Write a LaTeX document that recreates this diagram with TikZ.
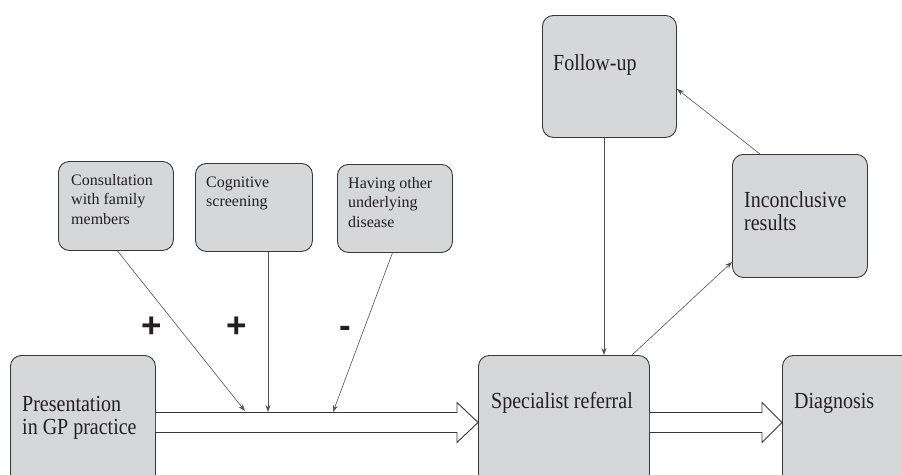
\documentclass[tikz,border=0pt]{standalone}
\usepackage{fontspec}
\setmainfont{Liberation Serif}
\newfontfamily\signfont{Liberation Sans}
\usetikzlibrary{arrows.meta,calc}
\definecolor{boxfill}{RGB}{214,215,217}
\definecolor{boxline}{RGB}{55,55,55}
\definecolor{txt}{RGB}{35,31,32}
\definecolor{conn}{RGB}{80,80,80}
\tikzset{
  box/.style={draw=boxline, fill=boxfill, line width=0.9pt, rounded corners=11pt, inner sep=0pt, anchor=north west},
  bigtext/.style={anchor=base west, align=left, inner sep=0pt, text=txt, yscale=1.15, transform shape, font=\fontsize{20}{20}\selectfont},
  smalltext/.style={anchor=base west, align=left, inner sep=0pt, text=txt, font=\fontsize{16}{19.5}\selectfont},
  conn/.style={draw=conn, line width=0.6pt, -{Stealth[length=7pt,width=5pt]}},
  bigarrow/.style={draw=boxline, fill=white, line width=0.9pt, line join=miter},
  sign/.style={inner sep=0pt, text=txt, font=\signfont\bfseries\fontsize{35}{35}\selectfont}
}
\begin{document}
\begin{tikzpicture}[x=1pt,y=-1pt]
\useasboundingbox (0,0) rectangle (902,474);
\clip (0,0) rectangle (902,474);
% main boxes
\node[box, minimum width=145pt, minimum height=134pt] (pres) at (10,355) {};
\node[box, minimum width=171pt, minimum height=134pt] (spec) at (478,355) {};
\node[box, minimum width=140pt, minimum height=134pt] (diag) at (782,355) {};
\node[box, minimum width=134pt, minimum height=122pt] (fu) at (542,15) {};
\node[box, minimum width=135pt, minimum height=123pt] (inc) at (732,154) {};
% small boxes
\node[box, minimum width=115pt, minimum height=89pt] (b1) at (58,161) {};
\node[box, minimum width=117pt, minimum height=88pt] (b2) at (195,163) {};
\node[box, minimum width=115pt, minimum height=88pt] (b3) at (337,164) {};
% texts (anchor at baseline of last line)
\node[bigtext] (presT) at (22,434) {Presentation\\in GP practice};
\node[bigtext] (specT) at (491,408) {Specialist referral};
\node[bigtext] (diagT) at (794,408) {Diagnosis};
\node[bigtext] (fuT) at (553,70) {Follow-up};
\node[bigtext] (incT) at (744,230) {Inconclusive\\results};
\node[smalltext] (b1T) at (71,224) {Consultation\\with family\\members};
\node[smalltext] (b2T) at (206,206.5) {Cognitive\\screening};
\node[smalltext] (b3T) at (348,227) {Having other\\underlying\\disease};
% big arrows
\draw[bigarrow] ($(pres.east)+(0,-10)$) -- ($(spec.west)+(-21,-10)$) -- ++(0,-10) -- (spec.west) -- ++(-21,20) -- ++(0,-10) -- ($(pres.east)+(0,10)$);
\draw[bigarrow] ($(spec.east)+(0,-10)$) -- ($(diag.west)+(-20,-10)$) -- ++(0,-10) -- (diag.west) -- ++(-20,20) -- ++(0,-10) -- ($(spec.east)+(0,10)$);
% connector end points
\coordinate (t1) at (245,411);
\coordinate (t2) at (268,412);
\coordinate (t3) at (333,412);
\coordinate (t4) at (604,355);
\coordinate (s5) at (632,355);
\coordinate (t5) at (732,262);
\coordinate (s6) at (760,154);
\coordinate (t6) at (677,89);
\draw[conn] ($(b1.south)+(1.5,0)$) -- (t1);
\draw[conn] (b2.south -| t2) -- (t2);
\draw[conn] ($(b3.south)+(-2.5,0)$) -- (t3);
\draw[conn] (fu.south -| t4) -- (t4);
\draw[conn] (s5) -- (t5);
\draw[conn] (s6) -- (t6);
% signs
\node[sign] (p1) at (152,327) {+};
\node[sign] (p2) at (237,327) {+};
\node[sign] (m1) at (345,332) {-};
\end{tikzpicture}
\end{document}
